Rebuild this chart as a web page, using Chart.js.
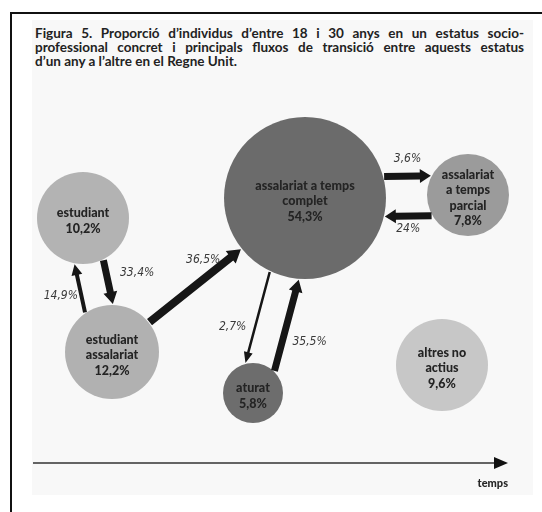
<!DOCTYPE html>
<html>
<head>
<meta charset="utf-8">
<script src="https://cdn.jsdelivr.net/npm/chart.js@4.4.1/dist/chart.umd.min.js"></script>
<style>
  html, body { margin:0; padding:0; background:#fff; }
  #wrap { position:relative; width:542px; height:512px; overflow:hidden; }
  .ft { position:absolute; left:10px; top:12px; width:532px; height:2px; background:#111; }
  .fl { position:absolute; left:10px; top:12px; width:2px; height:500px; background:#111; }
  .panel { position:absolute; left:32px; top:20px; width:501px; height:475px; background:#f8f8f8; }
  .title { position:absolute; left:35px; top:26px; width:489px; font-family:Lato, "Open Sans", sans-serif; font-weight:bold; font-size:13.5px; line-height:14px; color:#222; }
  .title div.j { text-align:justify; text-align-last:justify; white-space:nowrap; }
  canvas { position:absolute; left:0; top:0; }
</style>
</head>
<body>
<div id="wrap">
  <div class="ft"></div>
  <div class="fl"></div>
  <div class="panel"></div>
  <div class="title">
    <div class="j">Figura 5. Proporció d’individus d’entre 18 i 30 anys en un estatus socio-</div>
    <div class="j">professional concret i principals fluxos de transició entre aquests estatus</div>
    <div>d’un any a l’altre en el Regne Unit.</div>
  </div>
  <canvas id="c" width="542" height="512"></canvas>
</div>
<script>
// ---- data ----
const categories = ["estudiant", "estudiant assalariat", "assalariat a temps complet", "assalariat a temps parcial", "aturat", "altres no actius"];
const shares = [10.2, 12.2, 54.3, 7.8, 5.8, 9.6];
const labelLines = [["estudiant"], ["estudiant", "assalariat"], ["assalariat a temps", "complet"], ["assalariat", "a temps", "parcial"], ["aturat"], ["altres no", "actius"]];
const flowFrom = [2, 3, 1, 0, 1, 2, 4];
const flowTo   = [3, 2, 2, 1, 0, 4, 2];
const flowValues = [3.6, 24, 36.5, 33.4, 14.9, 2.7, 35.5];
const axisLabel = "temps";

// ---- layout (diagram positions, in scale units) ----
const nodeX = [83, 112, 305, 468, 253, 442];
const nodeY = [218, 352, 198, 195, 393, 365];
const nodeR = [46, 47, 81, 41, 30, 46];
const nodeColor = ["#b3b3b3", "#b1b1b1", "#6b6b6b", "#9b9b9b", "#6d6d6d", "#c7c7c7"];
const flowOffset = [-20, -20, 0, -11, -18, 15, 15];
const flowWidth = [7, 7, 8, 7, 4, 2.5, 7];
const flowHeadW = [14, 14, 16, 14, 11, 9, 14];
const flowHeadL = [11, 11, 13, 12, 11, 11, 12];
const flowLabelDX = [0, 0, 8, 29, -19, -25, 23];
const flowLabelDY = [-17, 13, -26, -9, 8, 9, 17];

const fmt = v => String(v).replace('.', ',') + '%';

const diagramPlugin = {
  id: 'diagram',
  afterDatasetsDraw(chart) {
    const ctx = chart.ctx;
    const xs = chart.scales.x, ys = chart.scales.y;
    const P = i => ({ x: xs.getPixelForValue(nodeX[i]), y: ys.getPixelForValue(nodeY[i]), r: nodeR[i] });
    ctx.save();
    // node labels
    ctx.fillStyle = '#242424';
    ctx.font = '900 12.5px Lato, "Open Sans", sans-serif';
    ctx.textAlign = 'center';
    ctx.textBaseline = 'middle';
    categories.forEach((c, i) => {
      const p = P(i);
      const lines = labelLines[i].concat([fmt(shares[i])]);
      const lh = 15.5;
      const y0 = p.y - (lines.length - 1) * lh / 2 + 3;
      lines.forEach((t, k) => ctx.fillText(t, p.x, y0 + k * lh));
    });
    // flow arrows
    flowValues.forEach((v, j) => {
      const A = P(flowFrom[j]), B = P(flowTo[j]);
      const dx = B.x - A.x, dy = B.y - A.y, L = Math.hypot(dx, dy);
      const ux = dx / L, uy = dy / L, px = -uy, py = ux;
      const o = flowOffset[j];
      const da = Math.sqrt(A.r * A.r - o * o) + 1;
      const db = Math.sqrt(B.r * B.r - o * o) + 1;
      const sx = A.x + ux * da + px * o, sy = A.y + uy * da + py * o;
      const ex = B.x - ux * db + px * o, ey = B.y - uy * db + py * o;
      const w = flowWidth[j] / 2, hw = flowHeadW[j] / 2, hl = flowHeadL[j];
      const bx = ex - ux * hl, by = ey - uy * hl;
      ctx.fillStyle = '#161616';
      ctx.beginPath();
      ctx.moveTo(sx + px * w, sy + py * w);
      ctx.lineTo(bx + px * w, by + py * w);
      ctx.lineTo(bx + px * hw, by + py * hw);
      ctx.lineTo(ex, ey);
      ctx.lineTo(bx - px * hw, by - py * hw);
      ctx.lineTo(bx - px * w, by - py * w);
      ctx.lineTo(sx - px * w, sy - py * w);
      ctx.closePath();
      ctx.fill();
      // label
      const mx = (sx + ex) / 2 + flowLabelDX[j], my = (sy + ey) / 2 + flowLabelDY[j];
      ctx.fillStyle = '#3a3a3a';
      ctx.font = 'italic 12px "Liberation Sans Narrow", "DejaVu Sans Condensed", sans-serif';
      ctx.fillText(fmt(v), mx, my);
    });
    // time axis
    const ax0 = 33, ax1 = 508, ay = 463;
    ctx.strokeStyle = '#333';
    ctx.lineWidth = 1.5;
    ctx.beginPath();
    ctx.moveTo(ax0, ay);
    ctx.lineTo(ax1 - 10, ay);
    ctx.stroke();
    ctx.fillStyle = '#111';
    ctx.beginPath();
    ctx.moveTo(ax1, ay);
    ctx.lineTo(ax1 - 14, ay - 6);
    ctx.lineTo(ax1 - 14, ay + 6);
    ctx.closePath();
    ctx.fill();
    ctx.fillStyle = '#262626';
    ctx.font = '900 11px Lato, "Open Sans", sans-serif';
    ctx.textAlign = 'right';
    ctx.fillText(axisLabel, ax1, 483);
    ctx.restore();
  }
};

new Chart(document.getElementById('c'), {
  type: 'bubble',
  data: {
    labels: categories,
    datasets: [{
      data: categories.map((c, i) => ({ x: nodeX[i], y: nodeY[i], r: nodeR[i], v: shares[i] })),
      backgroundColor: nodeColor,
      hoverBackgroundColor: nodeColor,
      borderWidth: 0,
      hoverBorderWidth: 0,
      hoverRadius: 0,
      clip: false
    }]
  },
  options: {
    responsive: false,
    animation: false,
    events: [],
    layout: { padding: 0, autoPadding: false },
    plugins: { legend: { display: false }, tooltip: { enabled: false }, title: { display: false } },
    scales: {
      x: { type: 'linear', min: 0, max: 542, display: false },
      y: { type: 'linear', min: 0, max: 512, reverse: true, display: false }
    }
  },
  plugins: [diagramPlugin]
});
</script>
</body>
</html>
